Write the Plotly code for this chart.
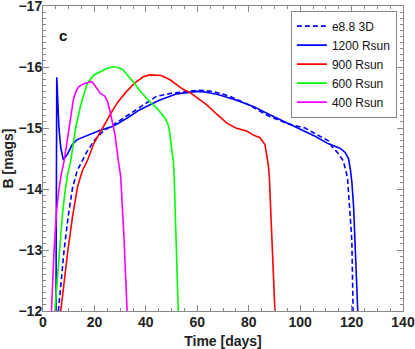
import plotly.graph_objects as go

# light curves: time [days], B magnitude
t_3d = [6.0, 7.0, 8.2, 9.8, 11.5, 13.3, 15.2, 17.2, 20.0, 23.5, 29.0, 35.1, 40.0, 44.2, 50.0,
        55.9, 61.0, 66.0, 72.0, 80.0, 87.6, 95.0, 101.9, 107.0, 111.0, 112.3, 114.5, 116.8,
        118.4, 119.4, 120.1, 120.6]
b_3d = [-12.0, -12.5, -13.0, -13.55, -14.02, -14.3, -14.47, -14.62, -14.8, -14.95, -15.1, -15.27,
        -15.4, -15.52, -15.57, -15.6, -15.62, -15.6, -15.53, -15.38, -15.2, -15.07, -15.0, -14.88,
        -14.79, -14.7, -14.6, -14.46, -14.19, -13.59, -13.16, -12.0]

t_1200 = [5.05, 5.25, 5.35, 5.7, 6.2, 6.9, 7.9, 9.5, 11.4, 13.3, 16.5, 19.8, 22.0, 27.3, 32.6,
          37.7, 45.0, 52.0, 57.0, 60.0, 63.0, 68.0, 75.0, 82.0, 88.0, 95.0, 100.6, 106.0, 111.0,
          115.5, 117.5, 118.8, 119.6, 120.1, 120.8, 121.4, 122.0, 122.4]
b_1200 = [-12.0, -14.0, -15.83, -15.5, -15.0, -14.68, -14.48, -14.57, -14.73, -14.81, -14.87,
          -14.93, -14.96, -15.03, -15.16, -15.3, -15.45, -15.56, -15.59, -15.6, -15.59, -15.55,
          -15.46, -15.35, -15.22, -15.08, -14.98, -14.86, -14.74, -14.67, -14.6, -14.5, -14.3,
          -14.12, -13.7, -13.16, -12.5, -12.0]

t_900 = [6.9, 8.2, 9.7, 11.5, 13.5, 15.3, 17.2, 19.8, 23.0, 26.1, 29.0, 32.5, 36.0, 39.0, 41.6,
         44.2, 46.0, 49.4, 54.6, 57.2, 60.5, 63.7, 67.5, 71.5, 75.0, 79.2, 82.0, 84.4, 86.3, 87.6,
         88.0, 89.0, 90.2]
b_900 = [-12.0, -12.5, -13.0, -13.55, -14.05, -14.3, -14.46, -14.75, -15.0, -15.22, -15.42, -15.6,
         -15.75, -15.84, -15.87, -15.87, -15.86, -15.79, -15.63, -15.58, -15.48, -15.38, -15.23,
         -15.08, -15.0, -14.95, -14.88, -14.84, -14.73, -14.4, -14.21, -13.21, -12.0]

t_600 = [4.6, 5.5, 6.5, 7.6, 8.7, 9.6, 10.8, 12.7, 14.7, 17.2, 19.8, 22.8, 25.0, 27.0, 28.5, 30.0,
         31.2, 33.8, 35.1, 37.5, 40.3, 42.0, 44.2, 46.0, 47.5, 48.7, 49.4, 50.2, 50.7, 51.0, 51.8,
         52.6]
b_600 = [-12.0, -12.5, -13.0, -13.6, -14.0, -14.24, -14.46, -15.0, -15.38, -15.73, -15.87, -15.94,
         -15.98, -16.0, -16.0, -15.98, -15.95, -15.82, -15.76, -15.62, -15.49, -15.41, -15.33,
         -15.24, -15.16, -15.05, -14.89, -14.6, -14.46, -14.21, -13.2, -12.0]

t_400 = [3.3, 4.3, 5.2, 6.1, 7.1, 8.2, 9.2, 10.1, 11.0, 11.9, 13.0, 14.0, 16.0, 17.9, 19.0, 19.8,
         21.0, 22.2, 24.1, 25.2, 26.1, 27.0, 28.0, 29.3, 30.2, 31.5, 32.7]
b_400 = [-12.0, -13.0, -13.6, -13.97, -14.24, -14.46, -14.73, -15.0, -15.28, -15.49, -15.62, -15.68,
         -15.73, -15.75, -15.76, -15.72, -15.64, -15.57, -15.52, -15.42, -15.27, -15.1, -14.89,
         -14.46, -14.21, -13.2, -12.0]

series = [
    ("e8.8 3D", t_3d, b_3d, "#0000ff", "5px,3px"),
    ("1200 Rsun", t_1200, b_1200, "#0000ff", "solid"),
    ("900 Rsun", t_900, b_900, "#ff0000", "solid"),
    ("600 Rsun", t_600, b_600, "#00ff00", "solid"),
    ("400 Rsun", t_400, b_400, "#ff00ff", "solid"),
]

fig = go.Figure()
for name, t, b, col, dash in series:
    fig.add_trace(go.Scatter(x=t, y=b, mode="lines", name=name,
                             line=dict(color=col, width=1.6, dash=dash)))

axfont = dict(family="Liberation Sans", size=14, color="#222222", weight="bold")
common = dict(showline=True, linecolor="#888888", linewidth=1, mirror="allticks",
              ticks="inside", ticklen=6, tickcolor="#888888", showgrid=False,
              zeroline=False, tickfont=axfont, ticklabeloverflow="allow", automargin=False)

fig.update_xaxes(range=[0, 140], dtick=20, ticklabelstandoff=-2,
                 title=dict(text="Time [days]", font=axfont),
                 minor=dict(dtick=5, ticks="inside", ticklen=3, tickcolor="#888888"), **common)
fig.update_yaxes(range=[-12, -17], dtick=1, ticklabelstandoff=-3,
                 title=dict(text="B [mags]", font=axfont),
                 minor=dict(dtick=0.1, ticks="inside", ticklen=3, tickcolor="#888888"), **common)

fig.add_annotation(text="c", xref="paper", yref="paper", x=0.039, y=0.938, showarrow=False,
                   font=dict(family="Liberation Sans", size=15, color="#111111", weight="bold"))

fig.update_layout(
    width=415, height=349,
    margin=dict(l=43, r=12, t=6, b=38, autoexpand=False),
    plot_bgcolor="white", paper_bgcolor="white",
    legend=dict(x=0.983, y=0.985, xanchor="right", yanchor="top",
                bordercolor="#888888", borderwidth=1, bgcolor="white", itemwidth=30,
                font=dict(family="Liberation Sans", size=12, color="#111111"),
                tracegroupgap=0),
)
fig.write_html("out.html", config={"displayModeBar": False},
               post_script="document.body.style.margin='0';")
